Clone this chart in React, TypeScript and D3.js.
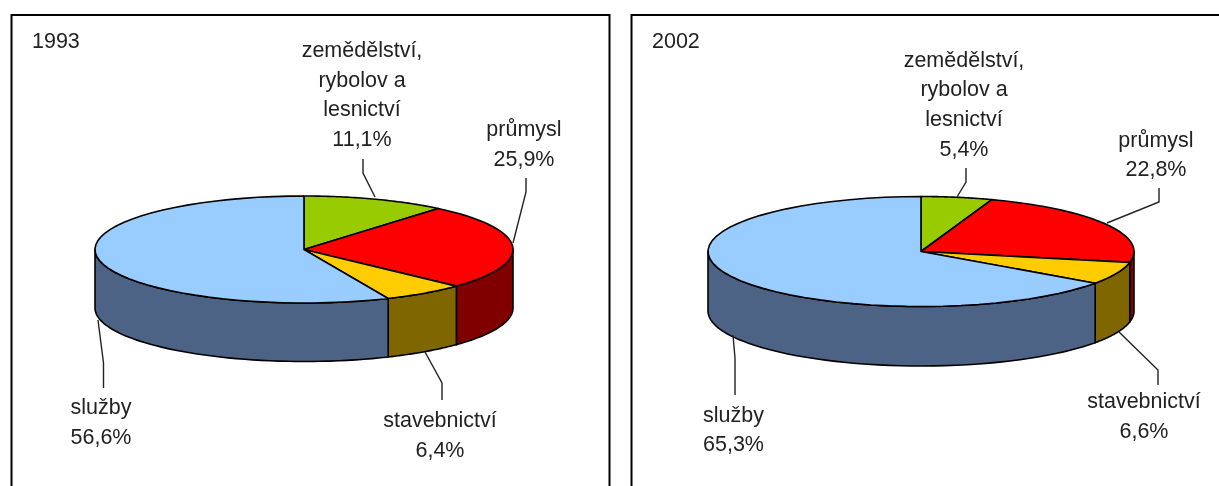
import React from "react";
import * as d3 from "d3";

const categories = ["zemědělství, rybolov a lesnictví", "průmysl", "stavebnictví", "služby"];
const values1993 = [11.1, 25.9, 6.4, 56.6];
const values2002 = [5.4, 22.8, 6.6, 65.3];
const valueLabels1993 = ["11,1%", "25,9%", "6,4%", "56,6%"];
const valueLabels2002 = ["5,4%", "22,8%", "6,6%", "65,3%"];
const labelLines = [["zemědělství,", "rybolov a", "lesnictví"], ["průmysl"], ["stavebnictví"], ["služby"]];

const topColors = ["#99cc00", "#ff0000", "#ffcc00", "#99ccff"];
const sideColors = ["#4d6600", "#800000", "#806600", "#4d6485"];
const FONT = "'Liberation Sans', Arial, sans-serif";
const FS = 21.5;
const LH = 29.7;

type Layout = {
  title: string; titleX: number; frameX: number; frameR: number;
  cx: number; cy: number; rx: number; ry: number; depth: number;
  labels: { x: number; top: number }[];
  leaders: [number, number][][];
};

const layout1993: Layout = {
  title: "1993", titleX: 32, frameX: 11.5, frameR: 609.5,
  cx: 304, cy: 249.5, rx: 209, ry: 53.5, depth: 58.5,
  labels: [{ x: 362, top: 57 }, { x: 524, top: 136 }, { x: 440, top: 427 }, { x: 101, top: 414 }],
  leaders: [
    [[363, 159], [363, 173], [375, 197]],
    [[526, 178], [526, 192], [513, 243]],
    [[442, 400], [442, 383], [425, 352]],
    [[103.5, 388], [103.5, 363], [98, 320]],
  ],
};
const layout2002: Layout = {
  title: "2002", titleX: 652, frameX: 631.5, frameR: 1230,
  cx: 921, cy: 251.5, rx: 213, ry: 55, depth: 59.5,
  labels: [{ x: 964, top: 66.5 }, { x: 1156, top: 146.5 }, { x: 1144, top: 408 }, { x: 733.5, top: 421.5 }],
  leaders: [
    [[966, 168], [966, 182], [957, 197]],
    [[1159, 188], [1159, 202], [1107, 223]],
    [[1158, 385], [1158, 370], [1119, 332]],
    [[735, 395], [735, 358], [733, 335]],
  ],
};

function Pie3D({ values, valueLabels, l }: { values: number[]; valueLabels: string[]; l: Layout }) {
  const pie = d3.pie<number>().sort(null)(values);
  const sx = d3.scaleLinear().domain([-1, 1]).range([l.cx - l.rx, l.cx + l.rx]);
  const sy = d3.scaleLinear().domain([-1, 1]).range([l.cy - l.ry, l.cy + l.ry]);
  const pt = (a: number, dy = 0): [number, number] => [sx(Math.sin(a)), sy(-Math.cos(a)) + dy];
  const samples = (a0: number, a1: number) => d3.range(0, 49).map((i) => a0 + ((a1 - a0) * i) / 48);
  const line = d3.line();
  return (
    <g>
      <path d={`M${l.frameX},486V15H${l.frameR}V486`} fill="none" stroke="#000" strokeWidth={2} />
      <text x={l.titleX} y={48} fontFamily={FONT} fontSize={FS} fill="#222">{l.title}</text>
      {pie.map((p, i) => {
        const a0 = Math.max(p.startAngle, Math.PI / 2);
        const a1 = Math.min(p.endAngle, (3 * Math.PI) / 2);
        if (a1 <= a0) return null;
        const top = samples(a0, a1).map((a) => pt(a));
        const bottom = samples(a1, a0).map((a) => pt(a, l.depth));
        return <path key={i} d={line([...top, ...bottom]) + "Z"} fill={sideColors[i]} stroke="#000" strokeWidth={1.6} strokeLinejoin="round" />;
      })}
      {pie.map((p, i) => {
        const arc = samples(p.startAngle, p.endAngle).map((a) => pt(a));
        return <path key={i} d={line([[l.cx, l.cy], ...arc]) + "Z"} fill={topColors[i]} stroke="#000" strokeWidth={1.6} strokeLinejoin="round" />;
      })}
      {l.leaders.map((pts, i) => (
        <path key={i} d={line(pts) ?? ""} fill="none" stroke="#222" strokeWidth={1.4} />
      ))}
      {categories.map((c, i) => (
        <text key={c} fontFamily={FONT} fontSize={FS} fill="#222" textAnchor="middle">
          {[...labelLines[i], valueLabels[i]].map((t, j) => (
            <tspan key={j} x={l.labels[i].x} y={l.labels[i].top + j * LH}>{t}</tspan>
          ))}
        </text>
      ))}
    </g>
  );
}

export default function App() {
  return (
    <svg width={1219} height={486} style={{ position: "absolute", left: 0, top: 0, background: "#fff" }}>
      <defs>
        <filter id="soft" x="0" y="0" width="100%" height="100%">
          <feGaussianBlur stdDeviation="0.4" />
        </filter>
      </defs>
      <g filter="url(#soft)">
        <rect width={1219} height={486} fill="#fff" />
        <Pie3D values={values1993} valueLabels={valueLabels1993} l={layout1993} />
        <Pie3D values={values2002} valueLabels={valueLabels2002} l={layout2002} />
      </g>
    </svg>
  );
}
